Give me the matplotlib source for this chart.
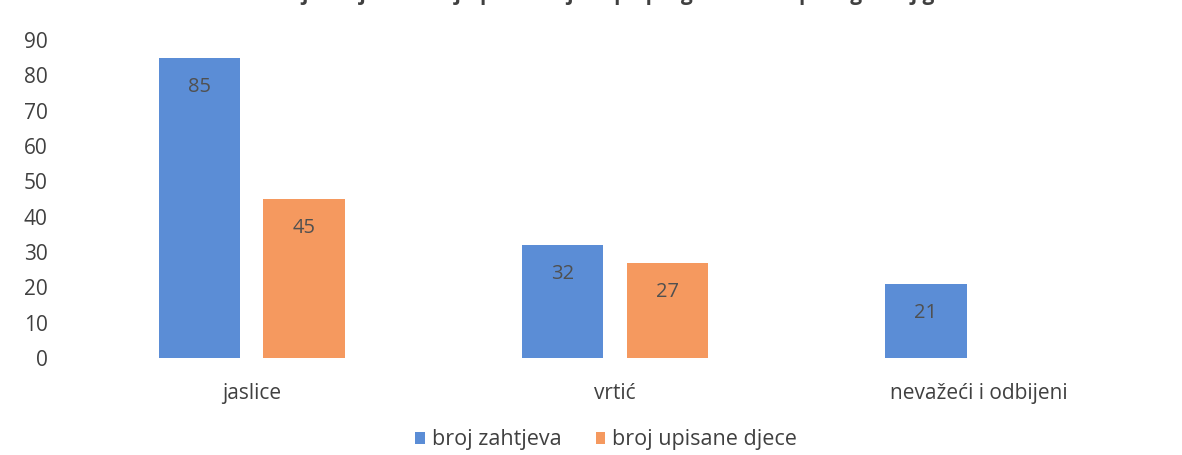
import matplotlib
matplotlib.use('Agg')
import numpy as np
import matplotlib.pyplot as plt

plt.rcParams['font.family'] = ['Open Sans', 'DejaVu Sans']

# data
categories = ['jaslice', 'vrtić', 'nevažeći i odbijeni']
zahtjevi = [85, 32, 21]
upisani = [45, 27, None]
series_names = ['broj zahtjeva', 'broj upisane djece']
title = 'Broj zahtjeva i broj upisane djece po programima u pedagoškoj godini'

blue = '#5b8dd6'
orange = '#f5995f'
label_col = '#505050'
text_col = '#404040'

fig = plt.figure(figsize=(11.82, 4.55), dpi=100)
ax = fig.add_axes([70 / 1182, 1 - 358 / 455, 1090 / 1182, 318 / 455])

x = np.arange(len(categories))
w = 0.224
off = 0.144

b1 = ax.bar(x - off, zahtjevi, w, color=blue, label=series_names[0])
up_x = [xi + off for xi, v in zip(x, upisani) if v is not None]
up_v = [v for v in upisani if v is not None]
b2 = ax.bar(up_x, up_v, w, color=orange, label=series_names[1])

# value labels just inside the bar tops
for bars in (b1, b2):
    for r in bars:
        h = r.get_height()
        ax.annotate(str(int(h)), (r.get_x() + r.get_width() / 2, h),
                    xytext=(0, -29), textcoords='offset pixels',
                    ha='center', va='center', fontsize=14.5, color=label_col)

ax.set_xlim(-0.5, len(categories) - 0.5)
ax.set_ylim(0, 90)
ax.set_yticks(range(0, 91, 10))
ax.set_xticks(x)
ax.set_xticklabels(categories)
for s in ax.spines.values():
    s.set_visible(False)
ax.tick_params(axis='both', length=0, labelsize=15, colors=text_col)
ax.tick_params(axis='y', pad=16)
ax.tick_params(axis='x', pad=18)

fig.legend(handles=[b1, b2], loc='center', bbox_to_anchor=(606 / 1182, 1 - 440 / 455),
           ncol=2, frameon=False, fontsize=15.5, handlelength=0.45,
           handleheight=0.45, handletextpad=0.3, columnspacing=1.6,
           labelcolor=text_col)

# title sits mostly above the cropped top edge, as in the scan
fig.text(0.53, 1.0, title, ha='center', va='baseline',
         fontsize=15, fontweight='bold', color=text_col)

fig.savefig('out.png', dpi=100)
